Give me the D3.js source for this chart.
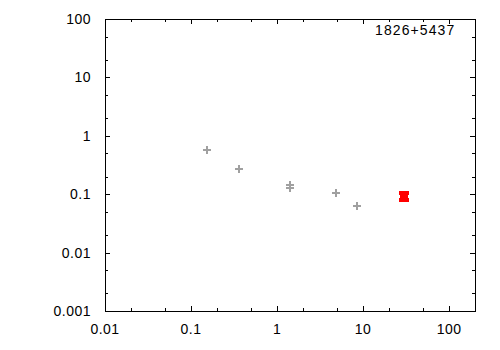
<!DOCTYPE html>
<html>
<head>
<meta charset="utf-8">
<script src="https://cdn.jsdelivr.net/npm/d3@7"></script>
<style>
  body { margin: 0; background: #fff; }
  svg { display: block; }
  text { font-family: "Liberation Sans", Arial, sans-serif; font-size: 14px; fill: #000; }
</style>
</head>
<body>
<div></div>
<script>
// data
var grayX = [0.153, 0.359, 1.40, 1.40, 4.81, 8.45];
var grayY = [0.571, 0.273, 0.146, 0.128, 0.1035, 0.0636];
var redX = [30.0];
var redY = [0.0913];
var redLow = [0.0805];
var redHigh = [0.1036];
var xTicks = [0.01, 0.1, 1, 10, 100];
var yTicks = [0.001, 0.01, 0.1, 1, 10, 100];
var label = "1826+5437";

// dimensions of the graph
var W = 500, H = 350;
var margin = {top: 19, right: 25, bottom: 39, left: 105},
    width = W - margin.left - margin.right,
    height = H - margin.top - margin.bottom;

var x = d3.scaleLog().domain([0.01, 200]).range([0, width]);
var y = d3.scaleLog().domain([0.001, 100]).range([height, 0]);

var svg = d3.select("body").select("div").append("svg")
    .attr("width", W)
    .attr("height", H)
    .append("g")
    .attr("transform", "translate(" + margin.left + "," + margin.top + ")");

// minor ticks at 2 and 5 of each decade
function minors(lo, hi) {
  var out = [];
  for (var e = Math.floor(Math.log10(lo)); e <= Math.ceil(Math.log10(hi)); e++) {
    [2, 5].forEach(function(m) {
      var v = m * Math.pow(10, e);
      if (v > lo && v < hi) out.push(v);
    });
  }
  return out;
}
function px(v) { return Math.round(v) + 0.5; }

var ticks = svg.append("g").attr("stroke", "#000").attr("stroke-width", 1)
    .attr("shape-rendering", "crispEdges");

// x ticks, bottom and mirrored on top
xTicks.forEach(function(t) {
  var xx = px(x(t));
  ticks.append("line").attr("x1", xx).attr("x2", xx).attr("y1", height).attr("y2", height - 5);
  ticks.append("line").attr("x1", xx).attr("x2", xx).attr("y1", 0).attr("y2", 5);
});
minors(0.01, 200).forEach(function(t) {
  var xx = px(x(t));
  ticks.append("line").attr("x1", xx).attr("x2", xx).attr("y1", height).attr("y2", height - 3);
  ticks.append("line").attr("x1", xx).attr("x2", xx).attr("y1", 0).attr("y2", 3);
});
// y ticks, left and mirrored on right
yTicks.forEach(function(t) {
  var yy = px(y(t));
  ticks.append("line").attr("y1", yy).attr("y2", yy).attr("x1", 0).attr("x2", 5);
  ticks.append("line").attr("y1", yy).attr("y2", yy).attr("x1", width).attr("x2", width - 5);
});
minors(0.001, 100).forEach(function(t) {
  var yy = px(y(t));
  ticks.append("line").attr("y1", yy).attr("y2", yy).attr("x1", 0).attr("x2", 3);
  ticks.append("line").attr("y1", yy).attr("y2", yy).attr("x1", width).attr("x2", width - 3);
});

// border
svg.append("rect")
    .attr("x", 0.5).attr("y", 0.5)
    .attr("width", width).attr("height", height)
    .attr("fill", "none").attr("stroke", "#000")
    .attr("shape-rendering", "crispEdges");

// tick labels
svg.append("g").selectAll("text")
    .data(xTicks).enter().append("text")
    .attr("x", function(d) { return x(d); })
    .attr("y", height + 23)
    .attr("text-anchor", "middle")
    .attr("letter-spacing", 0.5)
    .text(function(d) { return d3.format("~g")(d); });

svg.append("g").selectAll("text")
    .data(yTicks).enter().append("text")
    .attr("x", -14)
    .attr("y", function(d) { return y(d); })
    .attr("dy", "0.35em")
    .attr("text-anchor", "end")
    .attr("letter-spacing", 0.5)
    .text(function(d) { return d3.format("~g")(d); });

// label top right
svg.append("text")
    .attr("x", 270)
    .attr("y", 16)
    .attr("letter-spacing", 1.1)
    .text(label);

// gray plus markers
var gray = grayX.map(function(d, i) { return {x: d, y: grayY[i]}; });
var plus = svg.append("g").attr("stroke", "#a0a0a0").attr("stroke-width", 2)
    .attr("shape-rendering", "crispEdges");
gray.forEach(function(d) {
  var cx = Math.round(x(d.x)), cy = Math.round(y(d.y));
  plus.append("line").attr("x1", cx - 4).attr("x2", cx + 4).attr("y1", cy).attr("y2", cy);
  plus.append("line").attr("x1", cx).attr("x2", cx).attr("y1", cy - 4).attr("y2", cy + 4);
});

// red error bar
var red = svg.append("g").attr("fill", "#ff0000").attr("shape-rendering", "crispEdges");
redX.forEach(function(d, i) {
  var cx = Math.round(x(d)),
      yHi = Math.round(y(redHigh[i])),
      yLo = Math.round(y(redLow[i])),
      cy = Math.round(y(redY[i]));
  red.append("rect").attr("x", cx - 5).attr("y", yHi - 2).attr("width", 10).attr("height", 4);
  red.append("rect").attr("x", cx - 5).attr("y", yLo - 2).attr("width", 10).attr("height", 4);
  red.append("rect").attr("x", cx - 4).attr("y", yHi).attr("width", 8).attr("height", yLo - yHi);
});
</script>
</body>
</html>
